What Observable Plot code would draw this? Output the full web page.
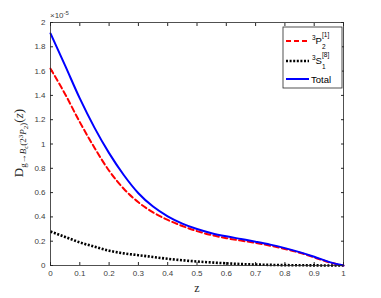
<!DOCTYPE html>
<html><head><meta charset="utf-8">
<script src="https://cdn.jsdelivr.net/npm/d3@7"></script>
<script src="https://cdn.jsdelivr.net/npm/@observablehq/plot@0.6"></script>
<style>body{margin:0;background:#fff}#chart{width:381px;height:298px}</style>
</head><body><div id="chart"></div>
<script>
const zValues = [0,0.05,0.1,0.15,0.2,0.25,0.3,0.35,0.4,0.45,0.5,0.55,0.6,0.65,0.7,0.75,0.8,0.85,0.9,0.95,1.0];
const p1Values = [1.62,1.41,1.18,0.97,0.78,0.632,0.52,0.437,0.375,0.325,0.283,0.25,0.225,0.205,0.186,0.163,0.136,0.105,0.067,0.027,0];
const s8Values = [0.28,0.235,0.19,0.155,0.122,0.10,0.085,0.07,0.055,0.043,0.033,0.025,0.018,0.012,0.008,0.005,0.003,0.002,0.001,0,0];
const totalValues = [1.91,1.645,1.375,1.135,0.925,0.745,0.595,0.485,0.405,0.345,0.30,0.266,0.24,0.218,0.196,0.172,0.143,0.11,0.072,0.03,0];
const xTicks = [0,0.1,0.2,0.3,0.4,0.5,0.6,0.7,0.8,0.9,1];
const yTicks = [0,0.2,0.4,0.6,0.8,1,1.2,1.4,1.6,1.8,2];
const xTickLabels = ["0","0.1","0.2","0.3","0.4","0.5","0.6","0.7","0.8","0.9","1"];
const yTickLabels = ["0","0.2","0.4","0.6","0.8","1","1.2","1.4","1.6","1.8","2"];
const seriesNames = ["3P2[1]","3S1[8]","Total"];

const rows = (vals, name) => zValues.map((z, i) => ({z, v: vals[i], series: name}));
const p1Rows = rows(p1Values, seriesNames[0]);
const s8Rows = rows(s8Values, seriesNames[1]);
const totalRows = rows(totalValues, seriesNames[2]);

const axisColor = "#262626";
const tickFont = "Liberation Sans, Arial, sans-serif";

const chart = Plot.plot({
  width: 381, height: 298,
  marginTop: 22, marginRight: 38, marginBottom: 33, marginLeft: 50,
  style: {background: "#fff", fontFamily: tickFont, fontSize: "8px", color: "#404040"},
  x: {domain: [0, 1]},
  y: {domain: [0, 2]},
  marks: [
    Plot.axisX(xTicks, {anchor: "bottom", tickSize: -3, tickPadding: 8, stroke: axisColor, strokeOpacity: 1, tickFormat: (d, i) => xTickLabels[i], label: null, fill: "#404040"}),
    Plot.axisX(xTicks, {anchor: "top", tickSize: -3, stroke: axisColor, strokeOpacity: 1, tickFormat: () => "", label: null}),
    Plot.axisY(yTicks, {anchor: "left", tickSize: -3, tickPadding: 8, stroke: axisColor, strokeOpacity: 1, tickFormat: (d, i) => yTickLabels[i], label: null, fill: "#404040"}),
    Plot.axisY(yTicks, {anchor: "right", tickSize: -3, stroke: axisColor, strokeOpacity: 1, tickFormat: () => "", label: null}),
    Plot.line(s8Rows, {x: "z", y: "v", stroke: "#000", strokeWidth: 2.6, strokeDasharray: "2,1.6", strokeLinecap: "butt", curve: "monotone-x"}),
    Plot.line(p1Rows, {x: "z", y: "v", stroke: "#ff0000", strokeWidth: 2, strokeDasharray: "5.5,3.2", curve: "monotone-x"}),
    Plot.line(totalRows, {x: "z", y: "v", stroke: "#0000ff", strokeWidth: 2, curve: "monotone-x"}),
    Plot.frame({stroke: axisColor, strokeWidth: 0.8})
  ]
});
document.getElementById("chart").appendChild(chart);

const svg = d3.select(chart);
// exponent label
const ex = svg.append("text").attr("x", 50).attr("y", 18).attr("text-anchor", "start").attr("font-family", tickFont).attr("font-size", 8).attr("fill", "#404040");
ex.append("tspan").text("×10");
ex.append("tspan").attr("dy", -3).attr("font-size", 6).text("-5");

// x label
svg.append("text").attr("x", 197).attr("y", 292).attr("text-anchor", "middle")
  .attr("font-family", "Liberation Serif, Times New Roman, serif").attr("font-size", 12).attr("fill", "#262626").text("z");

// y label
const yl = svg.append("text").attr("transform", "translate(23,143) rotate(-90)").attr("text-anchor", "middle")
  .attr("font-family", "Liberation Serif, Times New Roman, serif").attr("font-size", 13).attr("fill", "#262626");
yl.append("tspan").text("D");
yl.append("tspan").attr("font-size", 9).attr("dy", 3).text("g→");
yl.append("tspan").attr("font-size", 9).attr("font-style", "italic").text("B");
yl.append("tspan").attr("font-size", 7).attr("dy", 1.5).attr("font-style", "italic").text("c");
yl.append("tspan").attr("font-size", 9).attr("dy", -1.5).text("(2");
yl.append("tspan").attr("font-size", 7).attr("dy", -3.5).text("3");
yl.append("tspan").attr("font-size", 9).attr("dy", 3.5).attr("font-style", "italic").text("P");
yl.append("tspan").attr("font-size", 7).attr("dy", 1.5).text("2");
yl.append("tspan").attr("font-size", 9).attr("dy", -1.5).text(")");
yl.append("tspan").attr("font-size", 13).attr("dy", -3).text("(");
yl.append("tspan").attr("font-size", 13).attr("font-style", "italic").text("z");
yl.append("tspan").attr("font-size", 13).text(")");

// legend
const lg = svg.append("g").attr("font-family", tickFont).attr("fill", "#000").attr("text-anchor", "start");
lg.append("rect").attr("x", 283).attr("y", 27).attr("width", 59).attr("height", 61).attr("fill", "#fff").attr("stroke", axisColor).attr("stroke-width", 0.8);
const entries = [
  {y: 41, stroke: "#ff0000", dash: "5,3", w: 2},
  {y: 61, stroke: "#000", dash: "2,1.6", w: 2.6},
  {y: 79, stroke: "#0000ff", dash: null, w: 2}
];
entries.forEach(e => {
  const l = lg.append("line").attr("x1", 286).attr("x2", 309).attr("y1", e.y).attr("y2", e.y)
    .attr("stroke", e.stroke).attr("stroke-width", e.w);
  if (e.dash) l.attr("stroke-dasharray", e.dash);
});
const addT = (x, y, size, s) => lg.append("text").attr("x", x).attr("y", y).attr("font-size", size).text(s);
addT(312, 40, 6.5, "3"); addT(315.5, 44, 9.5, "P"); addT(322, 49, 6.5, "2"); addT(322, 37, 6.5, "[1]");
addT(312, 60, 6.5, "3"); addT(315.5, 64, 9.5, "S"); addT(322, 69, 6.5, "1"); addT(322, 57, 6.5, "[8]");
addT(311, 82.5, 9.5, "Total");
</script>
</body></html>
